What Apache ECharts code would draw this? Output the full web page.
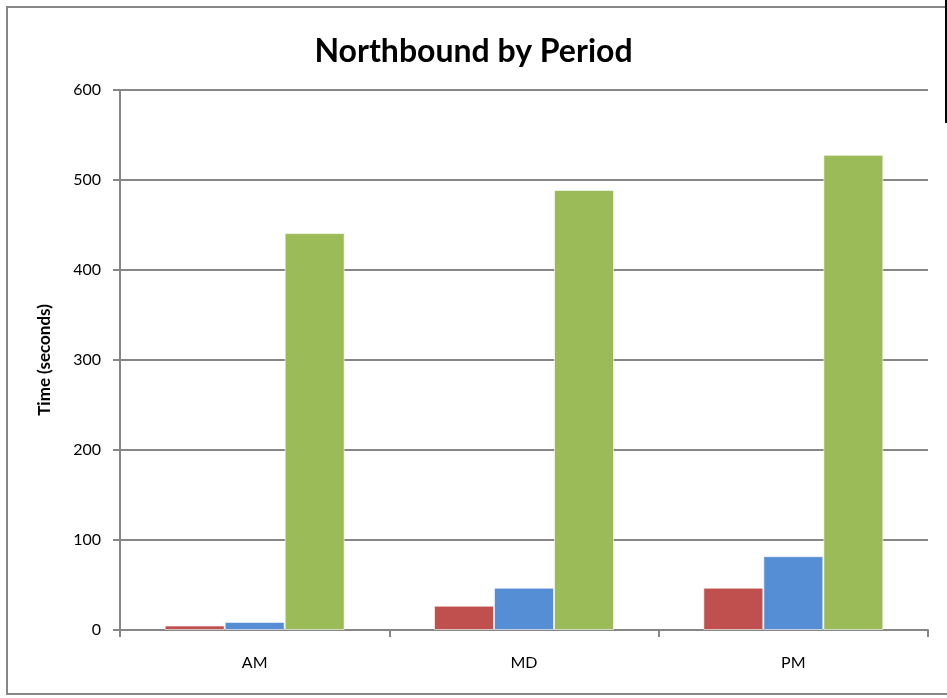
<!DOCTYPE html>
<html lang="en">
<head>
    <meta charset="utf-8"/>
    <title>Northbound by Period</title>
    <script src="https://cdn.jsdelivr.net/npm/echarts@6/dist/echarts.min.js"></script>
</head>
<body style="margin:0;background:#fff;">
<div id="chart" style="width:947px;height:698px;"></div>
<script type="text/javascript">
    // data
    var periods = ['AM', 'MD', 'PM'];
    var seriesRed = [5, 27, 47];
    var seriesBlue = [9, 47, 82];
    var seriesGreen = [441, 489, 528];
    var yTicks = {min: 0, max: 600, interval: 100};

    var myChart = echarts.init(document.getElementById('chart'));

    function bar(name, color, data) {
        return {
            name: name,
            type: 'bar',
            data: data,
            barWidth: 60,
            barGap: '0%',
            itemStyle: {color: color, borderColor: 'rgba(255,255,255,0.6)', borderWidth: 1}
        };
    }

    var option = {
        animation: false,
        textStyle: {fontFamily: 'Lato, "Open Sans", sans-serif'},
        title: {
            text: 'Northbound by Period',
            left: 'center',
            top: 31,
            textStyle: {fontSize: 32, fontWeight: 'bold', color: '#000', fontFamily: 'Lato, "Open Sans", sans-serif'}
        },
        grid: {left: 120, right: 19, top: 90, bottom: 68},
        xAxis: {
            type: 'category',
            data: periods,
            axisLine: {lineStyle: {color: '#868686', width: 2}},
            axisTick: {show: true, length: 7, lineStyle: {color: '#868686', width: 2}},
            axisLabel: {fontSize: 16, color: '#000', margin: 25}
        },
        yAxis: {
            type: 'value',
            min: yTicks.min,
            max: yTicks.max,
            interval: yTicks.interval,
            name: 'Time (seconds)',
            nameLocation: 'middle',
            nameGap: 67,
            nameTextStyle: {fontSize: 17, fontWeight: 'bold', color: '#000'},
            axisLine: {show: true, lineStyle: {color: '#868686', width: 2}},
            axisTick: {show: true, length: 7, lineStyle: {color: '#868686', width: 2}},
            axisLabel: {fontSize: 16, color: '#000', margin: 19},
            splitLine: {lineStyle: {color: '#868686', width: 2}}
        },
        series: [
            bar('Red', '#C0504D', seriesRed),
            bar('Blue', '#558ED5', seriesBlue),
            bar('Green', '#9BBB59', seriesGreen)
        ],
        graphic: [
            {
                type: 'rect',
                shape: {x: 7, y: 7, width: 960, height: 687},
                style: {fill: 'none', stroke: '#868686', lineWidth: 2},
                silent: true
            },
            {
                type: 'line',
                shape: {x1: 946, y1: 0, x2: 946, y2: 123},
                style: {stroke: '#000', lineWidth: 2},
                silent: true
            }
        ]
    };
    myChart.setOption(option);
</script>
</body>
</html>
